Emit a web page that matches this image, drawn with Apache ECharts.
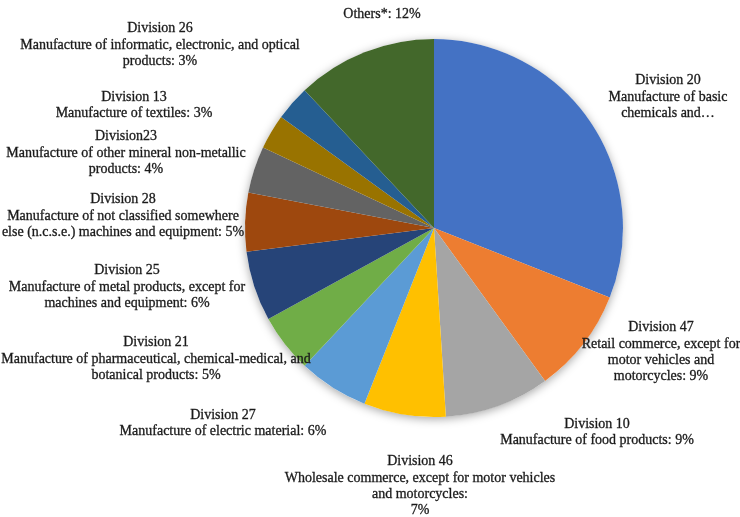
<!DOCTYPE html>
<html>
<head>
<meta charset="utf-8">
<script src="https://cdn.jsdelivr.net/npm/echarts@6/dist/echarts.min.js"></script>
<style>
  html, body { margin: 0; padding: 0; background: #ffffff; }
  #chart { width: 740px; height: 517px; }
</style>
</head>
<body>
<div id="chart"></div>
<script>
// Share of companies by economic division (%), clockwise from 12 o'clock
const divisions = [
  'Division 20', 'Division 47', 'Division 10', 'Division 46', 'Division 27', 'Division 21',
  'Division 25', 'Division 28', 'Division23', 'Division 13', 'Division 26', 'Others*'
];
const shares = [31, 9, 9, 7, 6, 5, 6, 5, 4, 3, 3, 12];

// Label text per slice; {v} is replaced with the slice value
const labelTemplates = [
  'Division 20\nManufacture of basic\nchemicals and…',
  'Division 47\nRetail commerce, except for\nmotor vehicles and\nmotorcycles: {v}%',
  'Division 10\nManufacture of food products: {v}%',
  'Division 46\nWholesale commerce, except for motor vehicles\nand motorcycles:\n{v}%',
  'Division 27\nManufacture of electric material: {v}%',
  'Division 21\nManufacture of pharmaceutical, chemical-medical, and\nbotanical products: {v}%',
  'Division 25\nManufacture of metal products, except for\nmachines and equipment: {v}%',
  'Division 28\nManufacture of not classified somewhere\nelse (n.c.s.e.) machines and equipment: {v}%',
  'Division23\nManufacture of other mineral non-metallic\nproducts: {v}%',
  'Division 13\nManufacture of textiles: {v}%',
  'Division 26\nManufacture of informatic, electronic, and optical\nproducts: {v}%',
  'Others*: {v}%'
];

const colors = [
  '#4472C4', '#ED7D31', '#A5A5A5', '#FFC000', '#5B9BD5', '#70AD47',
  '#264478', '#9E480E', '#636363', '#997300', '#255E91', '#43682B'
];

// Centre point of each label block
const labelAnchors = [
  [668, 97], [661, 352], [597, 432], [420, 486], [223, 423], [156, 359],
  [127, 287], [123, 216], [126, 153], [134, 105], [160, 45], [382, 14]
];

const pieCenter = [434, 228];
const pieRadius = 189;

const chart = echarts.init(document.getElementById('chart'), null, { renderer: 'canvas' });

chart.setOption({
  backgroundColor: '#ffffff',
  animation: false,
  series: [
    {
      // soft drop shadow underneath the whole pie
      type: 'pie',
      silent: true,
      z: 1,
      center: pieCenter,
      radius: pieRadius,
      label: { show: false },
      labelLine: { show: false },
      itemStyle: {
        color: '#ffffff',
        shadowBlur: 10,
        shadowOffsetY: 2,
        shadowColor: 'rgba(0,0,0,0.35)'
      },
      data: [{ value: 1, name: '' }]
    },
    {
      type: 'pie',
      z: 2,
      center: pieCenter,
      radius: pieRadius,
      startAngle: 90,
      clockwise: true,
      avoidLabelOverlap: false,
      itemStyle: { borderWidth: 0 },
      label: {
        show: true,
        position: 'outside',
        fontFamily: '"Liberation Serif", serif',
        fontSize: 14,
        fontWeight: 'normal',
        lineHeight: 16.3,
        color: '#1a1a1a',
        textBorderColor: '#1a1a1a',
        textBorderWidth: 0.3,
        align: 'center',
        formatter: p => labelTemplates[p.dataIndex].replace('{v}', p.value)
      },
      labelLine: { show: false },
      labelLayout: p => ({
        x: labelAnchors[p.dataIndex][0],
        y: labelAnchors[p.dataIndex][1],
        align: 'center',
        verticalAlign: 'middle'
      }),
      data: divisions.map((name, i) => ({
        name,
        value: shares[i],
        itemStyle: { color: colors[i] }
      }))
    }
  ]
});
</script>
</body>
</html>
